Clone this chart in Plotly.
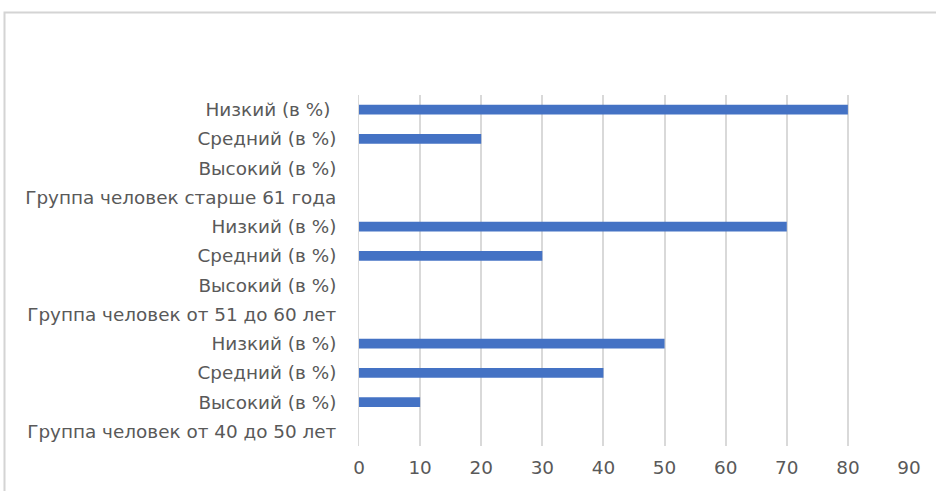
import plotly.graph_objects as go

# Row labels, bottom to top (labels repeat, so rows are placed by index)
categories = [
    "Группа человек от 40 до 50 лет",
    "Высокий (в %)",
    "Средний (в %)",
    "Низкий (в %)",
    "Группа человек от 51 до 60 лет",
    "Высокий (в %)",
    "Средний (в %)",
    "Низкий (в %)",
    "Группа человек старше 61 года",
    "Высокий (в %)",
    "Средний (в %)",
    "Низкий (в %) ",
]
values = [None, 10, 40, 50, None, 0, 30, 70, None, 0, 20, 80]
x_ticks = [0, 10, 20, 30, 40, 50, 60, 70, 80, 90]

rows = list(range(len(categories)))

fig = go.Figure(
    go.Bar(
        x=values,
        y=rows,
        orientation="h",
        marker=dict(color="#4472C4", line=dict(width=0)),
        width=0.34,
        hoverinfo="x",
    )
)

font_family = "'DejaVu Sans', sans-serif"
font_size = 18.4

fig.update_layout(
    width=936,
    height=491,
    margin=dict(l=359, r=27, t=95, b=45),
    paper_bgcolor="white",
    plot_bgcolor="white",
    showlegend=False,
    font=dict(family=font_family, size=font_size, color="#595959"),
    xaxis=dict(
        range=[0, 90],
        tickvals=x_ticks,
        showgrid=True,
        gridcolor="#d9d9d9",
        gridwidth=1.5,
        zeroline=False,
        showline=False,
        ticks="outside",
        ticklen=5,
        tickcolor="rgba(0,0,0,0)",
        tickfont=dict(size=font_size, color="#595959"),
        fixedrange=True,
    ),
    yaxis=dict(
        range=[-0.5, len(categories) - 0.5],
        tickvals=rows,
        ticktext=categories,
        showgrid=False,
        zeroline=False,
        showline=True,
        linecolor="#d9d9d9",
        linewidth=1,
        ticks="outside",
        ticklen=18,
        tickcolor="rgba(0,0,0,0)",
        tickfont=dict(size=font_size, color="#595959"),
        fixedrange=True,
    ),
    shapes=[
        # light chart-area frame
        dict(
            type="rect",
            xref="paper",
            yref="paper",
            x0=(4.5 - 359) / 550,
            x1=(945 - 359) / 550,
            y0=-0.3,
            y1=1 + (95 - 12.5) / 351,
            line=dict(color="#d4d4d4", width=2),
            fillcolor="rgba(0,0,0,0)",
            layer="below",
        )
    ],
)

fig.write_html("out.html")
